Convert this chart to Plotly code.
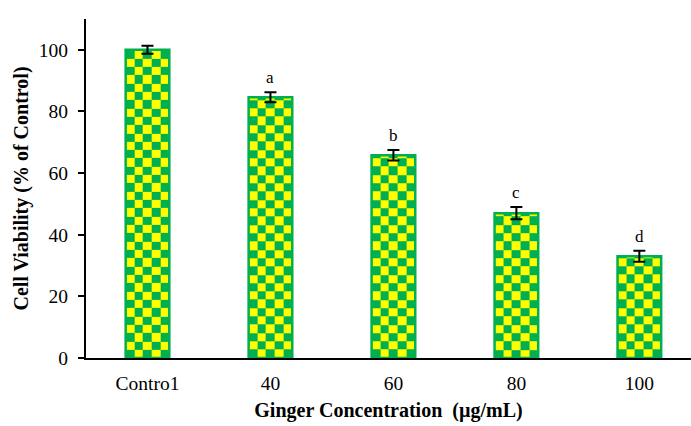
import numpy as np
import plotly.graph_objects as go

categories = ["Contro1", "40", "60", "80", "100"]
viability = [100.0, 84.6, 65.8, 47.0, 33.0]
errors = [1.3, 1.6, 1.7, 2.0, 1.8]
letters = ["", "a", "b", "c", "d"]

GREEN = "#00B050"
YELLOW = "#FFFF00"
FONT = "Liberation Serif, Times New Roman, serif"
BAR_W = 0.355
N_COLS = 5
SQ = 2.7  # checker square height in data units

fig = go.Figure()

xs = list(range(len(categories)))
# checkerboard fill for each bar (texture only; extent comes from the data)
for i, v in zip(xs, viability):
    xe = np.linspace(i - BAR_W / 2, i + BAR_W / 2, N_COLS + 1)
    ye = list(np.arange(0, v, SQ))
    if v - ye[-1] < 1e-6:
        ye = ye[:-1]
    ye.append(v)
    z = [[(r + c) % 2 for c in range(N_COLS)] for r in range(len(ye) - 1)]
    fig.add_trace(go.Heatmap(
        x=xe, y=ye, z=z, zmin=0, zmax=1, showscale=False, hoverinfo="skip",
        colorscale=[[0, GREEN], [0.5, GREEN], [0.5, YELLOW], [1, YELLOW]],
    ))

fig.add_trace(go.Bar(
    x=xs, y=viability, width=BAR_W,
    marker=dict(color="rgba(0,0,0,0)", line=dict(color=GREEN, width=2.5)),
    error_y=dict(type="data", array=errors, visible=True, color="black",
                 thickness=2, width=6),
    showlegend=False,
))

for i, v, e, t in zip(xs, viability, errors, letters):
    if t:
        fig.add_annotation(x=i, y=v + e, text=t, showarrow=False, yanchor="bottom",
                           yshift=3, font=dict(family=FONT, size=17, color="black"))

fig.update_layout(
    width=691, height=426,
    margin=dict(l=86, r=0, t=19, b=68),
    paper_bgcolor="white", plot_bgcolor="white",
    font=dict(family=FONT, color="black"),
    showlegend=False,
    xaxis=dict(
        range=[-0.5, 4.42], tickmode="array", tickvals=xs, ticktext=categories,
        showgrid=False, zeroline=False, showline=True, linecolor="black", linewidth=2,
        ticks="", ticklabelstandoff=7, tickfont=dict(family=FONT, size=19.5, color="black"),
        title=dict(text="<b>Ginger Concentration  (µg/mL)</b>", standoff=10,
                   font=dict(family=FONT, size=20, color="black")),
    ),
    yaxis=dict(
        range=[0, 110], tickmode="array", tickvals=[0, 20, 40, 60, 80, 100],
        showgrid=False, zeroline=False, showline=True, linecolor="black", linewidth=2,
        ticks="outside", ticklen=6, tickwidth=1.5, tickcolor="black",
        ticklabelstandoff=6,
        tickfont=dict(family=FONT, size=19.5, color="black"),
        title=dict(text="<b>Cell Viability (% of Control)</b>", standoff=5,
                   font=dict(family=FONT, size=20, color="black")),
    ),
)

fig.write_html("out.html")
